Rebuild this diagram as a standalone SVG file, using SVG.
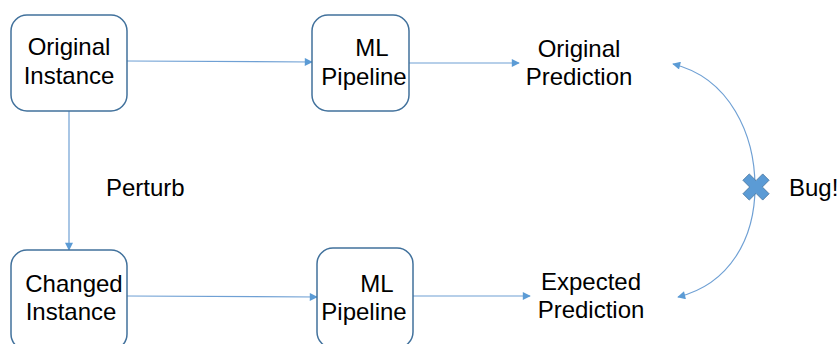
<svg xmlns="http://www.w3.org/2000/svg" width="839" height="344" viewBox="0 0 839 344">
  <style>
    .box { fill: #ffffff; stroke: #41719c; stroke-width: 1.5; }
    .lbl { font-family: "Liberation Sans", Arial, sans-serif; font-size: 24px; fill: #000000; }
    .edge { fill: none; stroke: #6fa0d4; stroke-width: 1.2; }
  </style>
  <defs>
    <marker id="arrow" viewBox="0 0 10 10" refX="9" refY="5" markerWidth="9" markerHeight="8" markerUnits="userSpaceOnUse" orient="auto-start-reverse">
      <path d="M0,0 L10,5 L0,10 Z" fill="#5b9bd5"/>
    </marker>
  </defs>
  <rect width="839" height="344" fill="#ffffff"/>

  <g id="connectors">
    <path class="edge" d="M127,61 L312,62" marker-end="url(#arrow)"/>
    <path class="edge" d="M409,63 L519,63" marker-end="url(#arrow)"/>
    <path class="edge" d="M69,111 L69,250" marker-end="url(#arrow)"/>
    <path class="edge" d="M127,296 L317,297" marker-end="url(#arrow)"/>
    <path class="edge" d="M413,296 L530,296" marker-end="url(#arrow)"/>
    <path class="edge" d="M673,64 C730,78 755,135 755,187 C755,238 730,284 678,297" marker-start="url(#arrow)" marker-end="url(#arrow)"/>
  </g>

  <g id="original-instance">
    <rect class="box" x="11" y="15" width="116" height="96" rx="16"/>
    <text class="lbl" x="69" y="55" text-anchor="middle">Original</text>
    <text class="lbl" x="69" y="84" text-anchor="middle">Instance</text>
  </g>

  <g id="ml-pipeline-top">
    <rect class="box" x="312" y="15" width="97" height="96" rx="16"/>
    <text class="lbl" x="372" y="56" text-anchor="middle">ML</text>
    <text class="lbl" x="364" y="85" text-anchor="middle">Pipeline</text>
  </g>

  <g id="original-prediction">
    <text class="lbl" x="579" y="57" text-anchor="middle">Original</text>
    <text class="lbl" x="579" y="85" text-anchor="middle">Prediction</text>
  </g>

  <g id="perturb-label">
    <text class="lbl" x="106" y="196">Perturb</text>
  </g>

  <g id="changed-instance">
    <rect class="box" x="11" y="250" width="116" height="100" rx="16"/>
    <text class="lbl" x="74" y="292" text-anchor="middle">Changed</text>
    <text class="lbl" x="71" y="320" text-anchor="middle">Instance</text>
  </g>

  <g id="ml-pipeline-bottom">
    <rect class="box" x="317" y="248" width="96" height="100" rx="16"/>
    <text class="lbl" x="377" y="292" text-anchor="middle">ML</text>
    <text class="lbl" x="364" y="320" text-anchor="middle">Pipeline</text>
  </g>

  <g id="expected-prediction">
    <text class="lbl" x="591" y="290" text-anchor="middle">Expected</text>
    <text class="lbl" x="591" y="318" text-anchor="middle">Prediction</text>
  </g>

  <g id="bug">
    <path transform="translate(756,187)" d="M13.08,6.72 L6.72,13.08 L0,6.36 L-6.72,13.08 L-13.08,6.72 L-6.36,0 L-13.08,-6.72 L-6.72,-13.08 L0,-6.36 L6.72,-13.08 L13.08,-6.72 L6.36,0 Z" fill="#5b9bd5" stroke="#41719c" stroke-width="0.8"/>
    <text class="lbl" x="789" y="196">Bug!</text>
  </g>
</svg>
